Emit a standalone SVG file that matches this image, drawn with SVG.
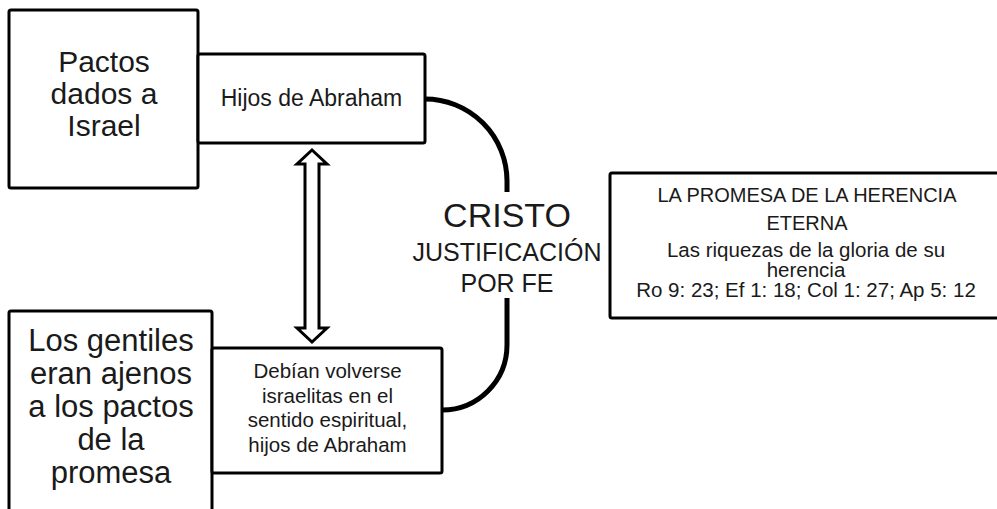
<svg xmlns="http://www.w3.org/2000/svg" width="997" height="509" viewBox="0 0 997 509">
<style>
.box{fill:#fff;stroke:#000;stroke-width:3}
text{font-family:"Liberation Sans",Arial,sans-serif;fill:#1a1a1a;text-anchor:middle}
.con{fill:none;stroke:#000;stroke-width:5}
</style>
<rect x="0" y="0" width="997" height="509" fill="#fff"/>
<g id="connectors">
<path class="con" d="M425,99 A82,82 0 0 1 507,181 L507,192"/>
<path class="con" d="M507,298 L507,345 A65,65 0 0 1 442,410"/>
<polygon points="312,150 327,164 319,164 319,328 327,328 312,342 297,328 305,328 305,164 297,164" fill="#fff" stroke="#000" stroke-width="3" stroke-linejoin="miter"/>
</g>
<g id="pactos">
<rect class="box" x="9" y="10" width="189" height="178" rx="2"/>
<text font-size="30"><tspan x="104" y="72">Pactos</tspan><tspan x="104" y="104">dados a</tspan><tspan x="104" y="136">Israel</tspan></text>
</g>
<g id="hijos">
<rect class="box" x="198" y="54" width="227" height="89" rx="2"/>
<text font-size="23" x="311.5" y="106">Hijos de Abraham</text>
</g>
<g id="gentiles">
<rect class="box" x="9" y="311" width="203" height="210" rx="2"/>
<text font-size="31"><tspan x="111" y="351">Los gentiles</tspan><tspan x="111" y="384">eran ajenos</tspan><tspan x="111" y="417">a los pactos</tspan><tspan x="111" y="450">de la</tspan><tspan x="111" y="483">promesa</tspan></text>
</g>
<g id="debian">
<rect class="box" x="212" y="348" width="230" height="125" rx="2"/>
<text font-size="20.5"><tspan x="327.5" y="378">Debían volverse</tspan><tspan x="327.5" y="403">israelitas en el</tspan><tspan x="327.5" y="427">sentido espiritual,</tspan><tspan x="327.5" y="452">hijos de Abraham</tspan></text>
</g>
<g id="cristo">
<text font-size="34" x="507" y="227">CRISTO</text>
<text font-size="25"><tspan x="507" y="261">JUSTIFICACIÓN</tspan><tspan x="507" y="292">POR FE</tspan></text>
</g>
<g id="promesa">
<rect class="box" x="610" y="173" width="400" height="145" rx="2"/>
<text font-size="20"><tspan x="807" y="202">LA PROMESA DE LA HERENCIA</tspan><tspan x="807" y="230">ETERNA</tspan></text>
<text font-size="20.5"><tspan x="806" y="257">Las riquezas de la gloria de su</tspan><tspan x="806" y="277">herencia</tspan><tspan x="806" y="297">Ro 9: 23; Ef 1: 18; Col 1: 27; Ap 5: 12</tspan></text>
</g>
</svg>
